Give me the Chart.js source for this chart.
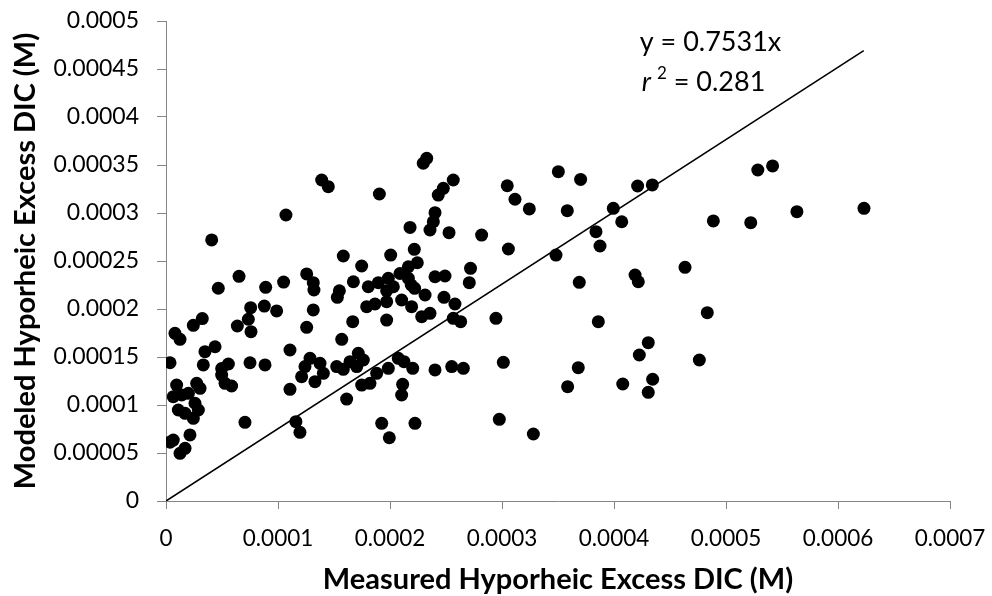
<!DOCTYPE html>
<html>
<head>
<meta charset="utf-8">
<script src="https://cdn.jsdelivr.net/npm/chart.js@4.4.1/dist/chart.umd.min.js"></script>
<style>
  html, body { margin: 0; padding: 0; background: #ffffff; }
  #wrap { width: 992px; height: 596px; }
</style>
</head>
<body>
<div id="wrap"><canvas id="c" width="992" height="596"></canvas></div>
<script>
// ---- Data ----
const measuredDIC = [
  0.0000036, 0.0000080, 0.0000125, 0.0000095, 0.0000065, 0.0000274, 0.0000304, 0.0000140, 0.0000200, 0.0000259,
  0.0000289, 0.0000244, 0.0000110, 0.0000170, 0.0000065, 0.0000214, 0.0000170, 0.0000125, 0.0000036, 0.0000244,
  0.0000324, 0.0000348, 0.0000438, 0.0000333, 0.0000408, 0.0000467, 0.0000497, 0.0000557, 0.0000497, 0.0000527,
  0.0000586, 0.0000652, 0.0000637, 0.0000735, 0.0000759, 0.0000756, 0.0000750, 0.0000705, 0.0000890, 0.0000878,
  0.0000988, 0.0000884, 0.0001050, 0.0001071, 0.0001107, 0.0001107, 0.0001160, 0.0001196, 0.0001256, 0.0001315,
  0.0001321, 0.0001315, 0.0001256, 0.0001286, 0.0001241, 0.0001211, 0.0001375, 0.0001405, 0.0001330, 0.0001390,
  0.0001449, 0.0001583, 0.0001548, 0.0001530, 0.0001569, 0.0001524, 0.0001583, 0.0001643, 0.0001717, 0.0001762,
  0.0001703, 0.0001613, 0.0001667, 0.0001673, 0.0001747, 0.0001747, 0.0001821, 0.0001881, 0.0001806, 0.0001896,
  0.0001985, 0.0002030, 0.0001970, 0.0001970, 0.0001792, 0.0001866, 0.0001970, 0.0001905, 0.0002006, 0.0002089,
  0.0002164, 0.0002217, 0.0002164, 0.0002190, 0.0002220, 0.0002104, 0.0002193, 0.0002313, 0.0002283, 0.0002357,
  0.0002179, 0.0002244, 0.0001985, 0.0002074, 0.0002125, 0.0002203, 0.0002113, 0.0002104, 0.0001926, 0.0002223,
  0.0001994, 0.0002328, 0.0002297, 0.0002565, 0.0002476, 0.0002431, 0.0002402, 0.0002387, 0.0002357, 0.0002527,
  0.0002818, 0.0002402, 0.0002491, 0.0002719, 0.0002708, 0.0002482, 0.0002580, 0.0002565, 0.0002631, 0.0002402,
  0.0002551, 0.0002655, 0.0002946, 0.0003012, 0.0002976, 0.0003280, 0.0003503, 0.0003702, 0.0003047, 0.0003116,
  0.0003244, 0.0003583, 0.0004211, 0.0004342, 0.0003994, 0.0004069, 0.0003839, 0.0003875, 0.0003057, 0.0003482,
  0.0003690, 0.0004188, 0.0004217, 0.0004634, 0.0003860, 0.0004306, 0.0004226, 0.0003681, 0.0003586, 0.0004345,
  0.0004306, 0.0004078, 0.0005284, 0.0005416, 0.0004887, 0.0005221, 0.0005633, 0.0006232, 0.0004833, 0.0004762
];
const modeledDIC = [
  0.0001440, 0.0001747, 0.0001684, 0.0001208, 0.0001087, 0.0001226, 0.0001174, 0.0001104, 0.0001122, 0.0001018,
  0.0000948, 0.0000861, 0.0000948, 0.0000913, 0.0000635, 0.0000688, 0.0000549, 0.0000497, 0.0000613, 0.0001830,
  0.0001900, 0.0001555, 0.0001607, 0.0001417, 0.0002720, 0.0002216, 0.0001380, 0.0001427, 0.0001312, 0.0001226,
  0.0001198, 0.0002340, 0.0001823, 0.0001893, 0.0001764, 0.0002014, 0.0001440, 0.0000820, 0.0002226, 0.0002030,
  0.0001980, 0.0001417, 0.0002280, 0.0002979, 0.0001573, 0.0001163, 0.0000826, 0.0000715, 0.0002365, 0.0002274,
  0.0002198, 0.0001990, 0.0001809, 0.0001486, 0.0001400, 0.0001295, 0.0001434, 0.0001330, 0.0001243, 0.0003344,
  0.0003274, 0.0002552, 0.0002190, 0.0002122, 0.0001684, 0.0001400, 0.0001372, 0.0001451, 0.0001538, 0.0001469,
  0.0001400, 0.0001062, 0.0001868, 0.0002284, 0.0002448, 0.0001208, 0.0001226, 0.0001330, 0.0002232, 0.0002274,
  0.0002320, 0.0002232, 0.0002190, 0.0002076, 0.0002024, 0.0002052, 0.0001885, 0.0003198, 0.0002562, 0.0002370,
  0.0002440, 0.0002622, 0.0002320, 0.0002250, 0.0002215, 0.0002094, 0.0002024, 0.0002146, 0.0001920, 0.0001955,
  0.0002850, 0.0002482, 0.0001382, 0.0001486, 0.0001451, 0.0001382, 0.0001215, 0.0001104, 0.0000809, 0.0000809,
  0.0000659, 0.0003570, 0.0003518, 0.0003344, 0.0003257, 0.0003187, 0.0003003, 0.0002910, 0.0002823, 0.0002795,
  0.0002770, 0.0002336, 0.0002344, 0.0002424, 0.0002274, 0.0002122, 0.0002052, 0.0001903, 0.0001868, 0.0001365,
  0.0001400, 0.0001382, 0.0001903, 0.0001445, 0.0000851, 0.0000698, 0.0003430, 0.0003350, 0.0003284, 0.0003143,
  0.0003042, 0.0003024, 0.0003281, 0.0003292, 0.0003049, 0.0002909, 0.0002805, 0.0002656, 0.0002625, 0.0002562,
  0.0002278, 0.0002354, 0.0002284, 0.0002434, 0.0001868, 0.0001649, 0.0001521, 0.0001389, 0.0001191, 0.0001268,
  0.0001132, 0.0001219, 0.0003448, 0.0003490, 0.0002917, 0.0002899, 0.0003014, 0.0003049, 0.0001962, 0.0001469
];
const fitSlope = 0.7531;
const fitR2 = 0.281;
const fitXRange = [0, 0.000623];
const xTickValues = [0, 0.0001, 0.0002, 0.0003, 0.0004, 0.0005, 0.0006, 0.0007];
const xTickLabels = ['0', '0.0001', '0.0002', '0.0003', '0.0004', '0.0005', '0.0006', '0.0007'];
const yTickValues = [0, 0.00005, 0.0001, 0.00015, 0.0002, 0.00025, 0.0003, 0.00035, 0.0004, 0.00045, 0.0005];
const yTickLabels = ['0', '0.00005', '0.0001', '0.00015', '0.0002', '0.00025', '0.0003', '0.00035', '0.0004', '0.00045', '0.0005'];
const xTitle = 'Measured Hyporheic Excess DIC (M)';
const yTitle = 'Modeled Hyporheic Excess DIC (M)';

// ---- Build chart ----
const FONT = 'Lato, "Open Sans", "DejaVu Sans", sans-serif';
Chart.defaults.color = '#000000';
Chart.defaults.font.family = FONT;

const points = measuredDIC.map((x, i) => ({ x: x, y: modeledDIC[i] }));
const fitLine = fitXRange.map(x => ({ x: x, y: fitSlope * x }));

const annotationPlugin = {
  id: 'fitLabel',
  afterDatasetsDraw(chart) {
    const ctx = chart.ctx;
    const xs = chart.scales.x, ys = chart.scales.y;
    const x0 = xs.getPixelForValue(0.000423);
    const y1 = ys.getPixelForValue(0.000469);
    const y2 = ys.getPixelForValue(0.000427);
    ctx.save();
    ctx.fillStyle = '#000';
    ctx.textBaseline = 'alphabetic';
    ctx.textAlign = 'left';
    ctx.font = '27px ' + FONT;
    ctx.fillText('y = ' + fitSlope + 'x', x0, y1);
    ctx.font = 'italic 27px ' + FONT;
    ctx.fillText('r', x0 + 2, y2);
    let w = ctx.measureText('r').width + 2;
    ctx.font = '17px ' + FONT;
    ctx.fillText('2', x0 + 2 + w + 4, y2 - 12);
    w += ctx.measureText('2').width + 4;
    ctx.font = '27px ' + FONT;
    ctx.fillText(' = ' + fitR2, x0 + 2 + w, y2);
    ctx.restore();
  }
};

new Chart(document.getElementById('c'), {
  type: 'scatter',
  data: {
    datasets: [
      {
        label: 'Data',
        data: points,
        backgroundColor: '#000000',
        borderWidth: 0,
        pointRadius: 6.5,
        pointHoverRadius: 6.5
      },
      {
        type: 'line',
        label: 'Fit',
        data: fitLine,
        borderColor: '#000000',
        borderWidth: 1.6,
        pointRadius: 0,
        fill: false,
        tension: 0
      }
    ]
  },
  options: {
    responsive: false,
    animation: false,
    devicePixelRatio: 1,
    layout: { padding: { left: 0, right: 42, top: 21, bottom: 0 } },
    plugins: {
      legend: { display: false },
      tooltip: { enabled: false }
    },
    scales: {
      x: {
        type: 'linear',
        min: 0,
        max: 0.0007,
        afterBuildTicks(scale) { scale.ticks = xTickValues.map(v => ({ value: v })); },
        afterFit(scale) {
          scale.height = 95;
          scale.paddingLeft = 0;
          scale.paddingRight = 0;
        },
        ticks: {
          callback: (v, i) => xTickLabels[i],
          font: { size: 22.5 },
          padding: 16,
          maxRotation: 0,
          autoSkip: false
        },
        grid: { drawOnChartArea: false, drawTicks: true, tickLength: 8, color: '#868686', lineWidth: 1 },
        border: { display: true, color: '#868686', width: 1 },
        title: {
          display: true,
          text: xTitle,
          font: { size: 29, weight: 'bold', lineHeight: 1.1 },
          padding: { top: 0, bottom: 0 }
        }
      },
      y: {
        type: 'linear',
        min: 0,
        max: 0.0005,
        afterBuildTicks(scale) { scale.ticks = yTickValues.map(v => ({ value: v })); },
        afterFit(scale) {
          scale.width = 166;
          scale.paddingTop = 0;
          scale.paddingBottom = 0;
        },
        ticks: {
          callback: (v, i) => yTickLabels[i],
          font: { size: 23 },
          padding: 18,
          autoSkip: false
        },
        grid: { drawOnChartArea: false, drawTicks: true, tickLength: 9, color: '#868686', lineWidth: 1 },
        border: { display: true, color: '#868686', width: 1 },
        title: {
          display: true,
          text: yTitle,
          font: { size: 29, weight: 'bold', lineHeight: 1.1 },
          padding: { top: 10, bottom: 0 }
        }
      }
    }
  },
  plugins: [annotationPlugin]
});
</script>
</body>
</html>
